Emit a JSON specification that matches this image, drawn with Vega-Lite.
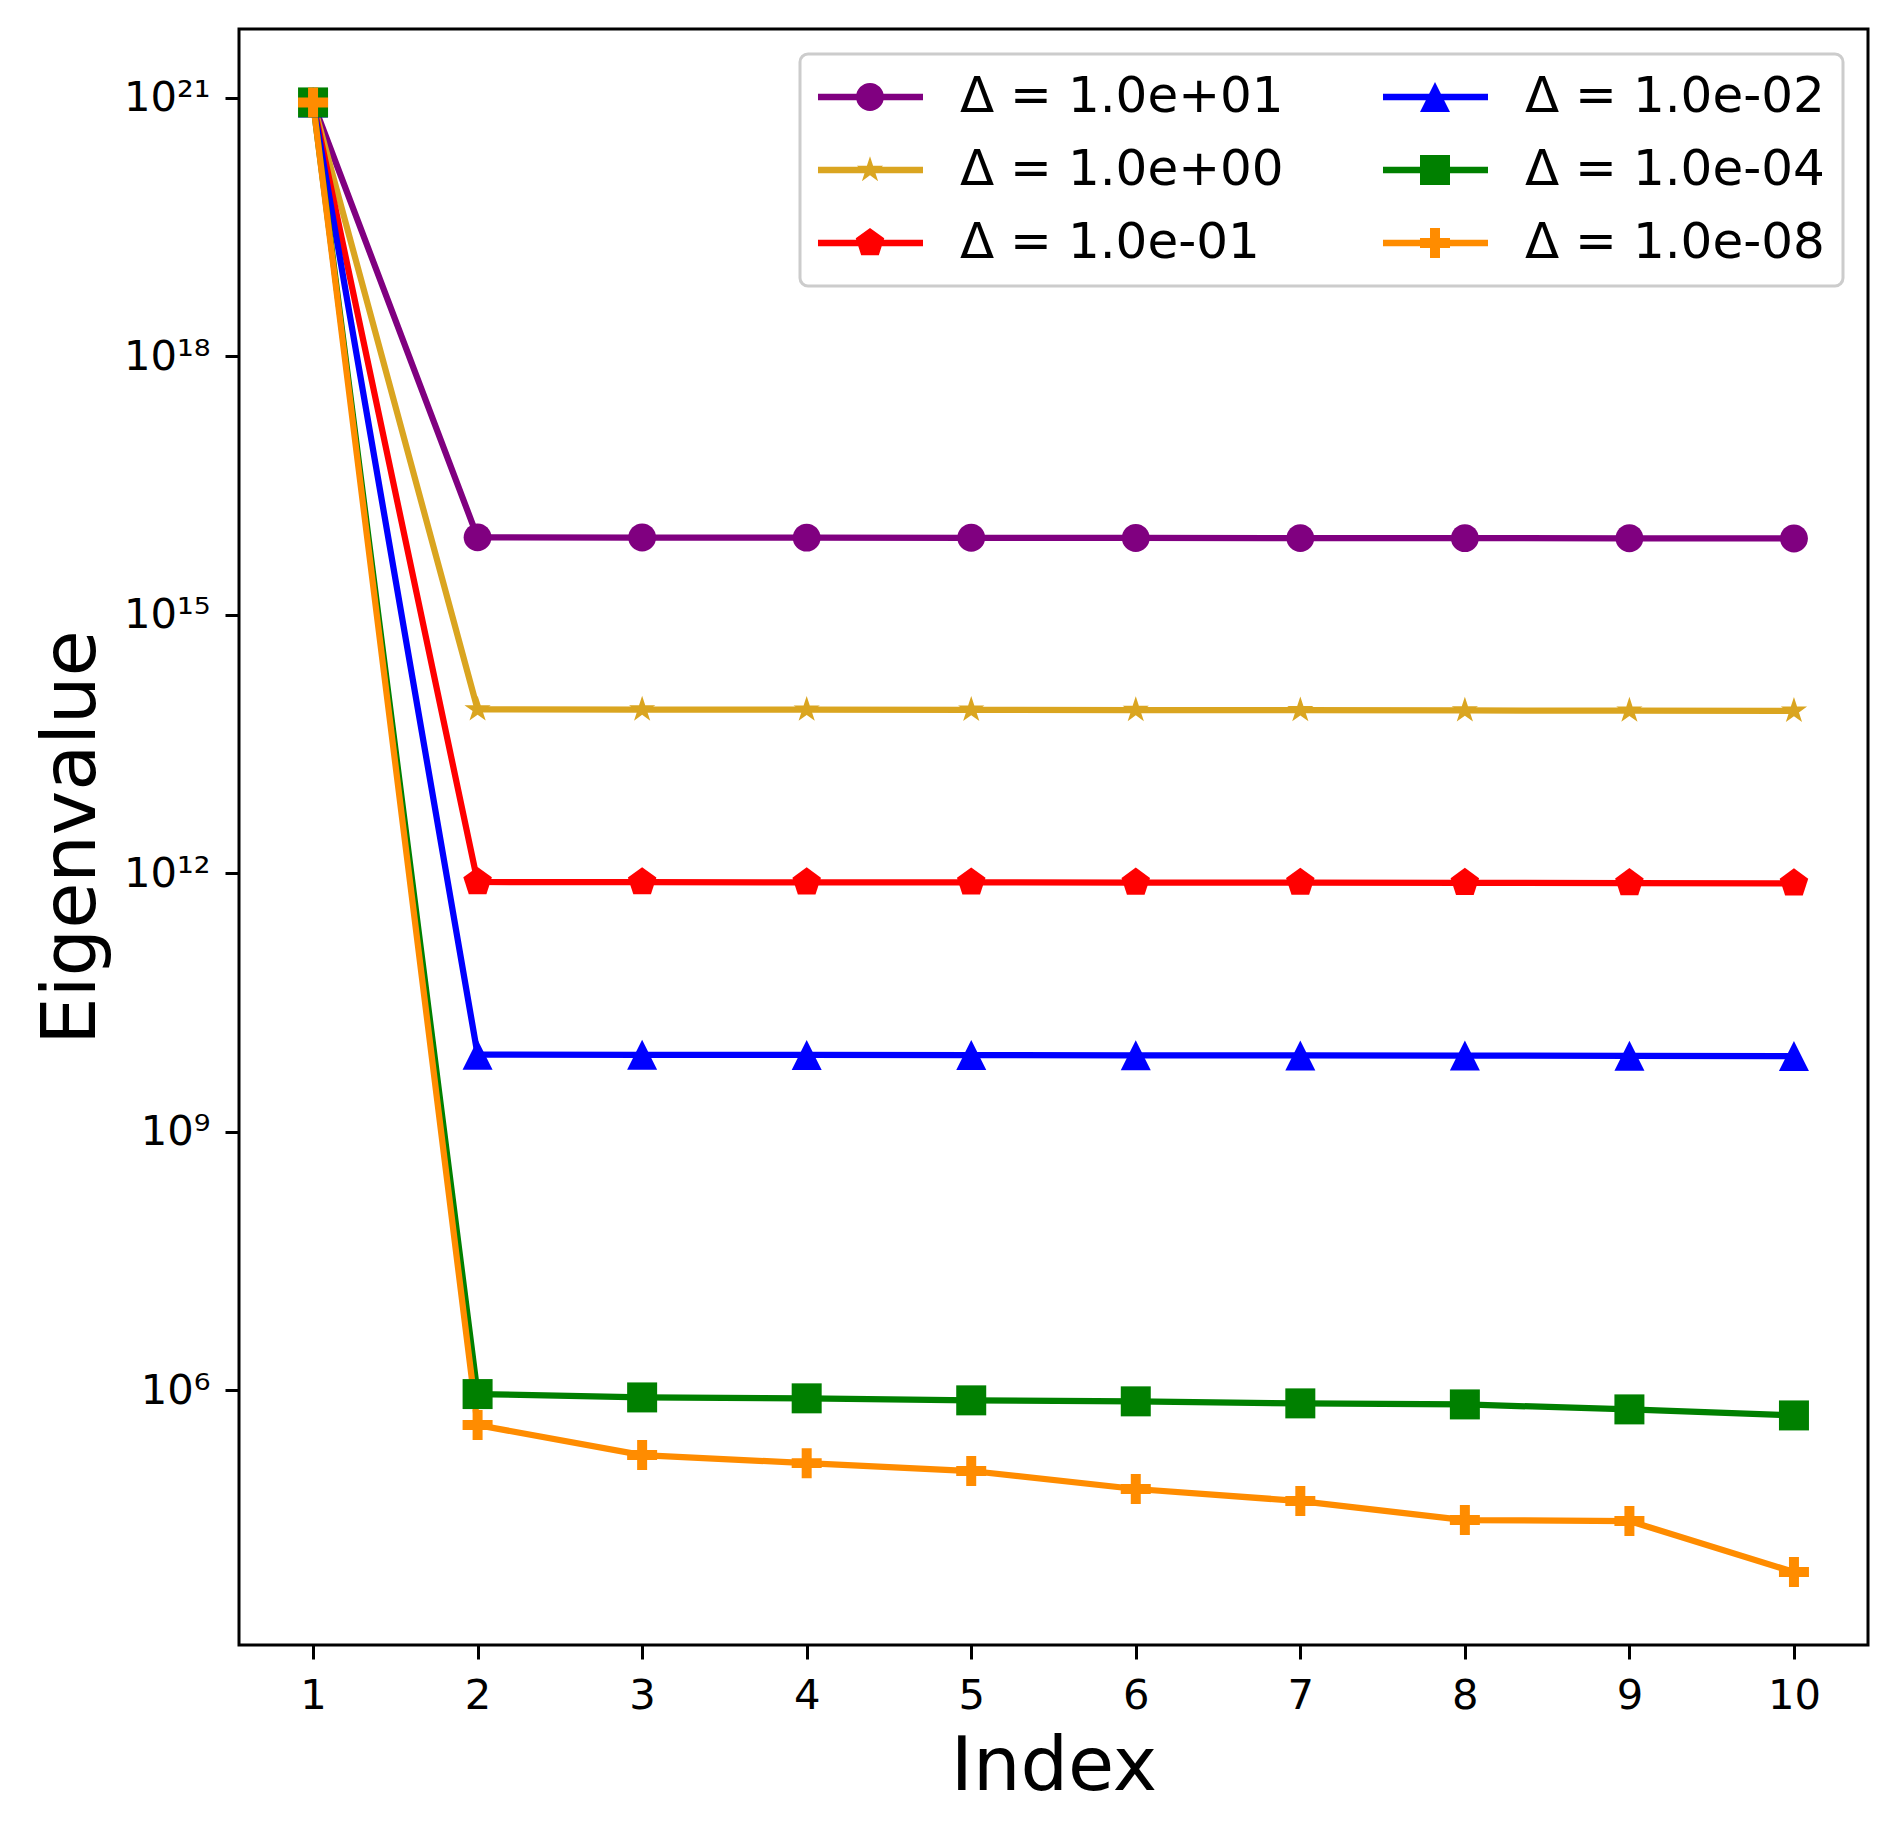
{
  "$schema": "https://vega.github.io/schema/vega-lite/v6.json",
  "width": 1629,
  "height": 1616,
  "autosize": {"type": "none"},
  "padding": {"left": 239, "top": 29, "right": 28, "bottom": 192},
  "background": "white",
  "config": {
    "font": "DejaVu Sans",
    "view": {"stroke": "black", "strokeWidth": 3},
    "axis": {
      "grid": false,
      "domain": false,
      "tickColor": "black",
      "tickWidth": 3,
      "tickSize": 14,
      "labelColor": "black",
      "labelFont": "DejaVu Sans",
      "labelFontSize": 41.7,
      "titleFont": "DejaVu Sans",
      "titleFontSize": 75,
      "titleFontWeight": "normal",
      "titleColor": "black"
    }
  },
  "data": {
    "values": [
      {"i": 1, "s": "Δ = 1.0e+01", "v": 8.81e20},
      {"i": 2, "s": "Δ = 1.0e+01", "v": 7.89e15},
      {"i": 3, "s": "Δ = 1.0e+01", "v": 7.85e15},
      {"i": 4, "s": "Δ = 1.0e+01", "v": 7.83e15},
      {"i": 5, "s": "Δ = 1.0e+01", "v": 7.80e15},
      {"i": 6, "s": "Δ = 1.0e+01", "v": 7.76e15},
      {"i": 7, "s": "Δ = 1.0e+01", "v": 7.74e15},
      {"i": 8, "s": "Δ = 1.0e+01", "v": 7.73e15},
      {"i": 9, "s": "Δ = 1.0e+01", "v": 7.69e15},
      {"i": 10, "s": "Δ = 1.0e+01", "v": 7.66e15},
      {"i": 1, "s": "Δ = 1.0e+00", "v": 8.81e20},
      {"i": 2, "s": "Δ = 1.0e+00", "v": 7.94e13},
      {"i": 3, "s": "Δ = 1.0e+00", "v": 7.91e13},
      {"i": 4, "s": "Δ = 1.0e+00", "v": 7.89e13},
      {"i": 5, "s": "Δ = 1.0e+00", "v": 7.85e13},
      {"i": 6, "s": "Δ = 1.0e+00", "v": 7.82e13},
      {"i": 7, "s": "Δ = 1.0e+00", "v": 7.78e13},
      {"i": 8, "s": "Δ = 1.0e+00", "v": 7.73e13},
      {"i": 9, "s": "Δ = 1.0e+00", "v": 7.69e13},
      {"i": 10, "s": "Δ = 1.0e+00", "v": 7.64e13},
      {"i": 1, "s": "Δ = 1.0e-01", "v": 8.81e20},
      {"i": 2, "s": "Δ = 1.0e-01", "v": 7.89e11},
      {"i": 3, "s": "Δ = 1.0e-01", "v": 7.85e11},
      {"i": 4, "s": "Δ = 1.0e-01", "v": 7.83e11},
      {"i": 5, "s": "Δ = 1.0e-01", "v": 7.80e11},
      {"i": 6, "s": "Δ = 1.0e-01", "v": 7.76e11},
      {"i": 7, "s": "Δ = 1.0e-01", "v": 7.74e11},
      {"i": 8, "s": "Δ = 1.0e-01", "v": 7.71e11},
      {"i": 9, "s": "Δ = 1.0e-01", "v": 7.67e11},
      {"i": 10, "s": "Δ = 1.0e-01", "v": 7.62e11},
      {"i": 1, "s": "Δ = 1.0e-02", "v": 8.81e20},
      {"i": 2, "s": "Δ = 1.0e-02", "v": 7.82e9},
      {"i": 3, "s": "Δ = 1.0e-02", "v": 7.78e9},
      {"i": 4, "s": "Δ = 1.0e-02", "v": 7.76e9},
      {"i": 5, "s": "Δ = 1.0e-02", "v": 7.73e9},
      {"i": 6, "s": "Δ = 1.0e-02", "v": 7.69e9},
      {"i": 7, "s": "Δ = 1.0e-02", "v": 7.66e9},
      {"i": 8, "s": "Δ = 1.0e-02", "v": 7.62e9},
      {"i": 9, "s": "Δ = 1.0e-02", "v": 7.57e9},
      {"i": 10, "s": "Δ = 1.0e-02", "v": 7.52e9},
      {"i": 1, "s": "Δ = 1.0e-04", "v": 8.81e20},
      {"i": 2, "s": "Δ = 1.0e-04", "v": 8.99e5},
      {"i": 3, "s": "Δ = 1.0e-04", "v": 8.22e5},
      {"i": 4, "s": "Δ = 1.0e-04", "v": 8.02e5},
      {"i": 5, "s": "Δ = 1.0e-04", "v": 7.60e5},
      {"i": 6, "s": "Δ = 1.0e-04", "v": 7.40e5},
      {"i": 7, "s": "Δ = 1.0e-04", "v": 7.01e5},
      {"i": 8, "s": "Δ = 1.0e-04", "v": 6.82e5},
      {"i": 9, "s": "Δ = 1.0e-04", "v": 5.97e5},
      {"i": 10, "s": "Δ = 1.0e-04", "v": 5.08e5},
      {"i": 1, "s": "Δ = 1.0e-08", "v": 8.81e20},
      {"i": 2, "s": "Δ = 1.0e-08", "v": 3.93e5},
      {"i": 3, "s": "Δ = 1.0e-08", "v": 1.76e5},
      {"i": 4, "s": "Δ = 1.0e-08", "v": 1.42e5},
      {"i": 5, "s": "Δ = 1.0e-08", "v": 1.15e5},
      {"i": 6, "s": "Δ = 1.0e-08", "v": 7.11e4},
      {"i": 7, "s": "Δ = 1.0e-08", "v": 5.15e4},
      {"i": 8, "s": "Δ = 1.0e-08", "v": 3.10e4},
      {"i": 9, "s": "Δ = 1.0e-08", "v": 3.02e4},
      {"i": 10, "s": "Δ = 1.0e-08", "v": 7.74e3}
    ]
  },
  "encoding": {
    "x": {
      "field": "i",
      "type": "quantitative",
      "scale": {"domain": [0.55, 10.45], "nice": false, "zero": false},
      "axis": {
        "title": "Index",
        "values": [1, 2, 3, 4, 5, 6, 7, 8, 9, 10],
        "format": "d",
        "labelPadding": 16,
        "titlePadding": 14
      }
    },
    "y": {
      "field": "v",
      "type": "quantitative",
      "scale": {"type": "log", "domain": [1.10e3, 6.27e21], "nice": false},
      "axis": {
        "title": "Eigenvalue",
        "values": [1e6, 1e9, 1e12, 1e15, 1e18, 1e21],
        "labelPadding": 15,
        "titlePadding": 13,
        "labelExpr": "'10' + (round(log(datum.value)/LN10) == 6 ? '⁶' : round(log(datum.value)/LN10) == 9 ? '⁹' : round(log(datum.value)/LN10) == 12 ? '¹²' : round(log(datum.value)/LN10) == 15 ? '¹⁵' : round(log(datum.value)/LN10) == 18 ? '¹⁸' : '²¹')"
      }
    },
    "color": {
      "field": "s",
      "type": "nominal",
      "scale": {
        "domain": ["Δ = 1.0e+01", "Δ = 1.0e+00", "Δ = 1.0e-01", "Δ = 1.0e-02", "Δ = 1.0e-04", "Δ = 1.0e-08"],
        "range": ["#800080", "#daa520", "#ff0000", "#0000ff", "#008000", "#ff8c00"]
      },
      "legend": {
        "title": null,
        "orient": "top-right",
        "offset": 25,
        "columns": 2,
        "columnPadding": 98,
        "rowPadding": 23,
        "padding": 18,
        "symbolSize": 900,
        "labelOffset": 92,
        "labelFont": "DejaVu Sans",
        "labelFontSize": 50,
        "labelColor": "black",
        "labelLimit": 600,
        "fillColor": "white",
        "strokeColor": "#cccccc",
        "cornerRadius": 8,
        "encode": {
          "legend": {
            "update": {"strokeWidth": {"value": 3}}
          },
          "symbols": {
            "update": {
              "size": {"value": 900},
              "fill": {"scale": "color", "field": "value"},
              "stroke": {"value": "transparent"},
              "strokeWidth": {"value": 0},
              "opacity": {"value": 1},
              "shape": {"signal": "datum.value == 'Δ = 1.0e+01' ? 'M-1.667,-0.21L5.333,-0.21L5.333,0.21L-1.667,0.21Z M0.87,0A0.93,0.93,0,1,1,2.73,0A0.93,0.93,0,1,1,0.87,0Z' : datum.value == 'Δ = 1.0e+00' ? 'M-1.667,-0.21L5.333,-0.21L5.333,0.21L-1.667,0.21Z M1.8,-0.92L2.007,-0.284L2.675,-0.284L2.134,0.109L2.341,0.744L1.8,0.351L1.259,0.744L1.466,0.109L0.925,-0.284L1.593,-0.284Z' : datum.value == 'Δ = 1.0e-01' ? 'M-1.667,-0.21L5.333,-0.21L5.333,0.21L-1.667,0.21Z M1.8,-1L2.751,-0.309L2.388,0.809L1.212,0.809L0.849,-0.309Z' : datum.value == 'Δ = 1.0e-02' ? 'M-1.667,-0.21L5.333,-0.21L5.333,0.21L-1.667,0.21Z M1.8,-1L2.8,1L0.8,1Z' : datum.value == 'Δ = 1.0e-04' ? 'M-1.667,-0.21L5.333,-0.21L5.333,0.21L-1.667,0.21Z M0.8,-1L2.8,-1L2.8,1L0.8,1Z' : 'M-1.667,-0.21L5.333,-0.21L5.333,0.21L-1.667,0.21Z M0.8,-0.333L1.467,-0.333L1.467,-1L2.133,-1L2.133,-0.333L2.8,-0.333L2.8,0.333L2.133,0.333L2.133,1L1.467,1L1.467,0.333L0.8,0.333Z'"}
            }
          }
        }
      }
    }
  },
  "layer": [
    {
      "mark": {"type": "line", "strokeWidth": 6.25}
    },
    {
      "transform": [{"filter": "datum.s == 'Δ = 1.0e+01'"}],
      "mark": {"type": "point", "filled": true, "opacity": 1, "size": 900, "strokeWidth": 0, "shape": "M-0.93,0A0.93,0.93,0,1,1,0.93,0A0.93,0.93,0,1,1,-0.93,0Z"}
    },
    {
      "transform": [{"filter": "datum.s == 'Δ = 1.0e+00'"}],
      "mark": {"type": "point", "filled": true, "opacity": 1, "size": 900, "strokeWidth": 0, "shape": "M0,-0.92L0.207,-0.284L0.875,-0.284L0.334,0.109L0.541,0.744L0,0.351L-0.541,0.744L-0.334,0.109L-0.875,-0.284L-0.207,-0.284Z"}
    },
    {
      "transform": [{"filter": "datum.s == 'Δ = 1.0e-01'"}],
      "mark": {"type": "point", "filled": true, "opacity": 1, "size": 900, "strokeWidth": 0, "shape": "M0,-1L0.951,-0.309L0.588,0.809L-0.588,0.809L-0.951,-0.309Z"}
    },
    {
      "transform": [{"filter": "datum.s == 'Δ = 1.0e-02'"}],
      "mark": {"type": "point", "filled": true, "opacity": 1, "size": 900, "strokeWidth": 0, "shape": "M0,-1L1,1L-1,1Z"}
    },
    {
      "transform": [{"filter": "datum.s == 'Δ = 1.0e-04'"}],
      "mark": {"type": "point", "filled": true, "opacity": 1, "size": 900, "strokeWidth": 0, "shape": "M-1,-1L1,-1L1,1L-1,1Z"}
    },
    {
      "transform": [{"filter": "datum.s == 'Δ = 1.0e-08'"}],
      "mark": {"type": "point", "filled": true, "opacity": 1, "size": 900, "strokeWidth": 0, "shape": "M-1,-0.333L-0.333,-0.333L-0.333,-1L0.333,-1L0.333,-0.333L1,-0.333L1,0.333L0.333,0.333L0.333,1L-0.333,1L-0.333,0.333L-1,0.333Z"}
    }
  ]
}
